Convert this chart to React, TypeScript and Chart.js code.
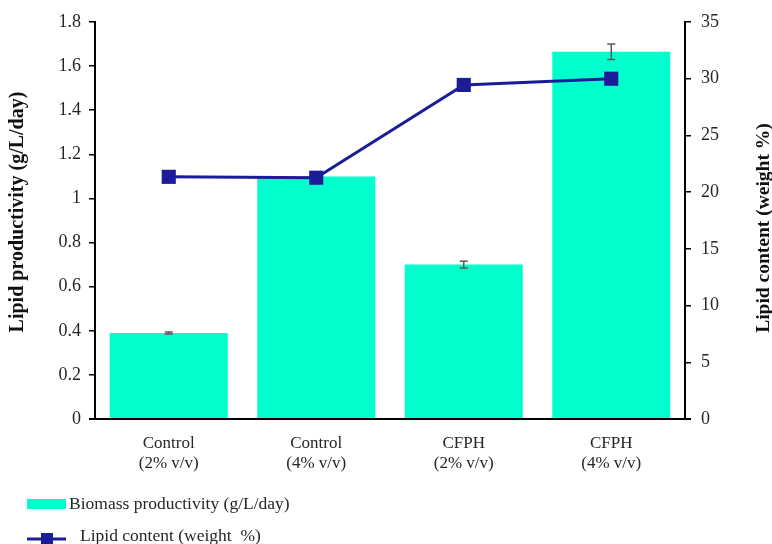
import React, { useEffect, useRef } from 'react';
import { Chart, registerables } from 'chart.js';

Chart.register(...registerables);

// Treatment groups (two-line labels)
const categories: string[][] = [
  ['Control', '(2% v/v)'],
  ['Control', '(4% v/v)'],
  ['CFPH', '(2% v/v)'],
  ['CFPH', '(4% v/v)'],
];

// Biomass productivity (g/L/day), left axis
const biomass = [0.39, 1.1, 0.7, 1.665];
const biomassErr = [0.005, 0.01, 0.015, 0.035];

// Lipid content (weight %), right axis
const lipid = [21.35, 21.27, 29.45, 30.0];

const leftTicks = { min: 0, max: 1.8, step: 0.2 };
const rightTicks = { min: 0, max: 35, step: 5 };

const BAR_COLOR = '#00ffcc';
const LINE_COLOR = '#1c1c99';
const TEXT_COLOR = '#262626';
const SERIF = '"Liberation Serif", "Times New Roman", serif';

const errorBars = {
  id: 'errorBars',
  afterDatasetDraw(chart: any, args: any) {
    if (args.index !== 0) return;
    const meta = chart.getDatasetMeta(0);
    const y = chart.scales.y;
    const ctx = chart.ctx;
    ctx.save();
    ctx.strokeStyle = '#5a5a5a';
    ctx.lineWidth = 1.5;
    meta.data.forEach((bar: any, i: number) => {
      const v = biomass[i];
      const e = biomassErr[i];
      const top = y.getPixelForValue(v + e);
      const bot = y.getPixelForValue(v - e);
      const x = bar.x;
      ctx.beginPath();
      ctx.moveTo(x, top);
      ctx.lineTo(x, bot);
      ctx.moveTo(x - 4, top);
      ctx.lineTo(x + 4, top);
      ctx.moveTo(x - 4, bot);
      ctx.lineTo(x + 4, bot);
      ctx.stroke();
    });
    ctx.restore();
  },
};

const decorations = {
  id: 'decorations',
  afterDraw(chart: any) {
    const ctx = chart.ctx;
    const area = chart.chartArea;
    ctx.save();
    // category axis line runs slightly past both value axes
    ctx.strokeStyle = '#000';
    ctx.lineWidth = 2;
    ctx.beginPath();
    ctx.moveTo(area.left - 6, area.bottom);
    ctx.lineTo(area.right + 6, area.bottom);
    ctx.stroke();

    // axis titles
    ctx.fillStyle = '#111';
    ctx.textAlign = 'center';
    ctx.textBaseline = 'middle';
    ctx.save();
    ctx.font = `bold 20px ${SERIF}`;
    ctx.translate(18, 212);
    ctx.rotate(-Math.PI / 2);
    ctx.fillText('Lipid productivity (g/L/day)', 0, 0);
    ctx.restore();
    ctx.save();
    ctx.font = `bold 19.5px ${SERIF}`;
    ctx.translate(764, 228);
    ctx.rotate(-Math.PI / 2);
    ctx.fillText('Lipid content (weight %)', 0, 0);
    ctx.restore();

    // legend
    ctx.font = `17.5px ${SERIF}`;
    ctx.textAlign = 'left';
    ctx.fillStyle = BAR_COLOR;
    ctx.fillRect(27, 499, 39, 10);
    ctx.fillStyle = TEXT_COLOR;
    ctx.fillText('Biomass productivity (g/L/day)', 69, 504);

    ctx.strokeStyle = LINE_COLOR;
    ctx.lineWidth = 3;
    ctx.beginPath();
    ctx.moveTo(27, 539);
    ctx.lineTo(66, 539);
    ctx.stroke();
    ctx.fillStyle = LINE_COLOR;
    ctx.fillRect(41, 533, 12, 12);
    ctx.fillStyle = TEXT_COLOR;
    ctx.fillText('Lipid content (weight  %)', 80, 536);
    ctx.restore();
  },
};

export default function App() {
  const canvasRef = useRef<HTMLCanvasElement | null>(null);

  useEffect(() => {
    if (!canvasRef.current) return;
    const tickFont = { family: SERIF, size: 18 };
    const chart = new Chart(canvasRef.current, {
      type: 'bar',
      data: {
        labels: categories,
        datasets: [
          {
            type: 'bar',
            label: 'Biomass productivity (g/L/day)',
            data: biomass,
            backgroundColor: BAR_COLOR,
            borderWidth: 0,
            yAxisID: 'y',
            categoryPercentage: 1,
            barPercentage: 0.8,
            order: 2,
          },
          {
            type: 'line',
            label: 'Lipid content (weight %)',
            data: lipid,
            borderColor: LINE_COLOR,
            backgroundColor: LINE_COLOR,
            borderWidth: 3,
            pointStyle: 'rect',
            pointRadius: 10,
            pointBorderWidth: 0,
            tension: 0,
            yAxisID: 'y1',
            order: 1,
          } as any,
        ],
      },
      options: {
        responsive: false,
        animation: false,
        layout: { padding: { top: 22, left: 0, right: 0, bottom: 0 } },
        plugins: {
          legend: { display: false },
          tooltip: { enabled: false },
        },
        scales: {
          x: {
            offset: true,
            grid: { display: false },
            border: { display: false },
            ticks: {
              font: { family: SERIF, size: 17 },
              color: TEXT_COLOR,
              padding: 6,
              maxRotation: 0,
            },
            afterFit: (s: any) => {
              s.height = 125;
            },
          },
          y: {
            position: 'left',
            min: leftTicks.min,
            max: leftTicks.max,
            ticks: {
              stepSize: leftTicks.step,
              font: tickFont,
              color: TEXT_COLOR,
              padding: 8,
              callback: (v: any) => String(Math.round(Number(v) * 10) / 10),
            },
            grid: {
              display: true,
              drawOnChartArea: false,
              drawTicks: true,
              tickLength: 6,
              color: '#000',
              lineWidth: 1.5,
            },
            border: { display: true, color: '#000', width: 2 },
            afterFit: (s: any) => {
              s.width = 95;
            },
          },
          y1: {
            position: 'right',
            min: rightTicks.min,
            max: rightTicks.max,
            ticks: {
              stepSize: rightTicks.step,
              font: tickFont,
              color: TEXT_COLOR,
              padding: 10,
            },
            grid: {
              display: true,
              drawOnChartArea: false,
              drawTicks: true,
              tickLength: 6,
              color: '#000',
              lineWidth: 1.5,
            },
            border: { display: true, color: '#000', width: 2 },
            afterFit: (s: any) => {
              s.width = 87;
            },
          },
        },
      },
      plugins: [errorBars, decorations],
    });
    return () => chart.destroy();
  }, []);

  return (
    <div style={{ position: 'absolute', left: 0, top: 0, width: 772, height: 544, background: '#fff' }}>
      <canvas ref={canvasRef} width={772} height={544} style={{ display: 'block' }} />
    </div>
  );
}
